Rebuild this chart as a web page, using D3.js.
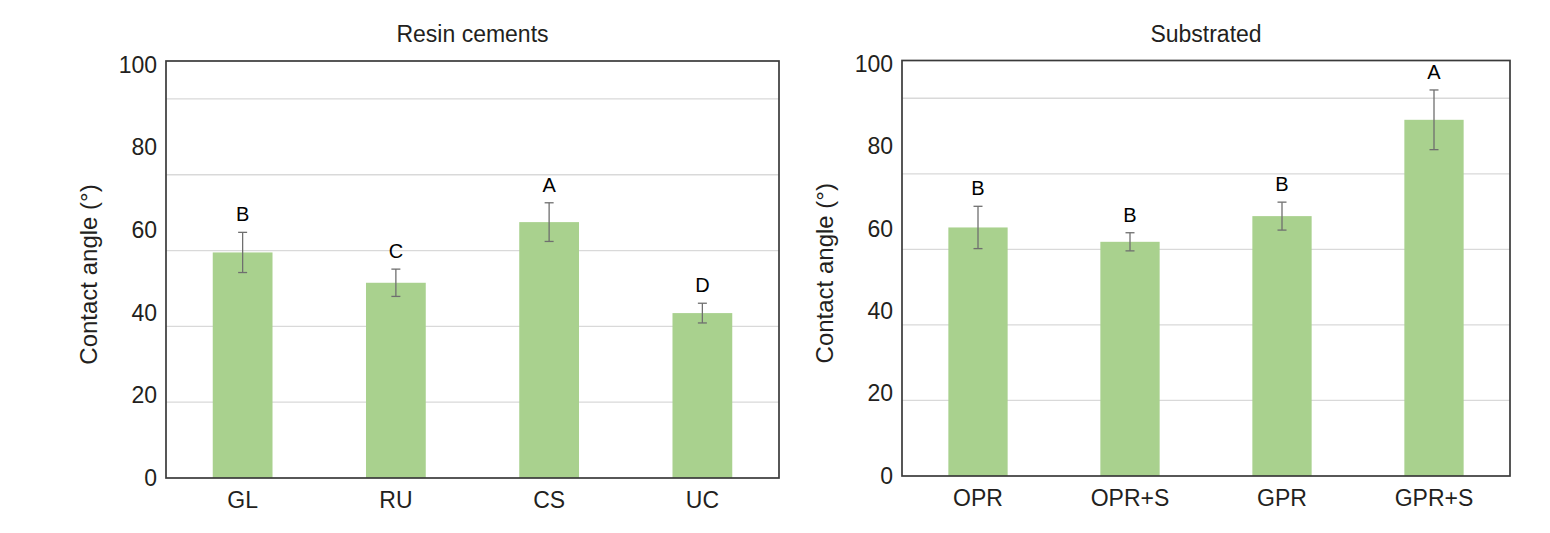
<!DOCTYPE html>
<html>
<head>
<meta charset="utf-8">
<script src="https://cdn.jsdelivr.net/npm/d3@7"></script>
<style>
  body { margin: 0; background: #fff; }
  svg { display: block; }
</style>
</head>
<body>
<script>
// Data
var cementCats = ["GL", "RU", "CS", "UC"];
var cementMeans = [59.5, 51.5, 67.5, 43.5];
var cementSD = [5.3, 3.6, 5.1, 2.6];
var cementLetters = ["B", "C", "A", "D"];

var substrateCats = ["OPR", "OPR+S", "GPR", "GPR+S"];
var substrateMeans = [65.8, 62.0, 68.8, 94.3];
var substrateSD = [5.6, 2.4, 3.7, 7.9];
var substrateLetters = ["B", "B", "B", "A"];

var tickLabels = [0, 20, 40, 60, 80, 100];
var gridValues = [20, 40, 60, 80, 100];

var w = 1550;
var h = 533;

var svg = d3.select("body")
  .append("svg")
  .attr("width", w)
  .attr("height", h);

var tickFont = "'Liberation Sans Narrow', 'Arial Narrow', sans-serif";

function drawPanel(opts) {
  var g = svg.append("g");

  // bars/gridlines live on a 0-110 scale, tick labels on 0-100
  var y = d3.scaleLinear().domain([0, 110]).range([opts.bottom, opts.top]);
  var yLab = d3.scaleLinear().domain([0, 100]).range([opts.bottom, opts.labTop]);

  var x = d3.scaleBand()
    .domain(opts.cats)
    .range([opts.left, opts.right])
    .paddingInner(0.61)
    .paddingOuter(0.305);

  // gridlines
  g.selectAll(".grid")
    .data(gridValues)
    .enter()
    .append("line")
    .attr("x1", opts.left)
    .attr("x2", opts.right)
    .attr("y1", function(d) { return y(d); })
    .attr("y2", function(d) { return y(d); })
    .attr("stroke", "#d9d9d9")
    .attr("stroke-width", 1.3);

  // bars
  g.selectAll(".bar")
    .data(opts.cats)
    .enter()
    .append("rect")
    .attr("x", function(d) { return x(d); })
    .attr("width", x.bandwidth())
    .attr("y", function(d, i) { return y(opts.means[i]); })
    .attr("height", function(d, i) { return y(0) - y(opts.means[i]); })
    .attr("fill", "#a9d18e");

  // error bars
  var eb = g.selectAll(".err")
    .data(opts.cats)
    .enter()
    .append("g")
    .attr("stroke", "#6f6f6f")
    .attr("stroke-width", 1.3);
  eb.append("line")
    .attr("x1", function(d) { return x(d) + x.bandwidth() / 2; })
    .attr("x2", function(d) { return x(d) + x.bandwidth() / 2; })
    .attr("y1", function(d, i) { return y(opts.means[i] + opts.sd[i]); })
    .attr("y2", function(d, i) { return y(opts.means[i] - opts.sd[i]); });
  [1, -1].forEach(function(s) {
    eb.append("line")
      .attr("x1", function(d) { return x(d) + x.bandwidth() / 2 - 4.5; })
      .attr("x2", function(d) { return x(d) + x.bandwidth() / 2 + 4.5; })
      .attr("y1", function(d, i) { return y(opts.means[i] + s * opts.sd[i]); })
      .attr("y2", function(d, i) { return y(opts.means[i] + s * opts.sd[i]); });
  });

  // significance letters
  g.selectAll(".letter")
    .data(opts.cats)
    .enter()
    .append("text")
    .attr("x", function(d) { return x(d) + x.bandwidth() / 2; })
    .attr("y", function(d, i) { return y(opts.means[i] + opts.sd[i]) - 11; })
    .attr("text-anchor", "middle")
    .attr("font-family", "'Liberation Sans', Arial, sans-serif")
    .attr("font-size", 20)
    .attr("fill", "#000")
    .text(function(d, i) { return opts.letters[i]; });

  // frame
  g.append("rect")
    .attr("x", opts.left)
    .attr("y", opts.top)
    .attr("width", opts.right - opts.left)
    .attr("height", opts.bottom - opts.top)
    .attr("fill", "none")
    .attr("stroke", "#3a3a3a")
    .attr("stroke-width", 1.7);

  // y tick labels
  g.append("g")
    .attr("transform", "translate(" + opts.left + ",0)")
    .call(d3.axisLeft(yLab).tickValues(tickLabels).tickSize(0).tickPadding(9))
    .call(function(a) {
      a.select(".domain").remove();
      a.selectAll("text")
        .attr("font-family", tickFont)
        .attr("font-size", 23)
        .attr("fill", "#231f20");
    });

  // x tick labels
  g.append("g")
    .attr("transform", "translate(0," + opts.bottom + ")")
    .call(d3.axisBottom(x).tickSize(0).tickPadding(14))
    .call(function(a) {
      a.select(".domain").remove();
      a.selectAll("text")
        .attr("font-family", tickFont)
        .attr("font-size", 23)
        .attr("fill", "#231f20");
    });

  // title
  g.append("text")
    .attr("x", (opts.left + opts.right) / 2)
    .attr("y", 42)
    .attr("text-anchor", "middle")
    .attr("font-family", tickFont)
    .attr("font-size", 23)
    .attr("fill", "#231f20")
    .text(opts.title);

  // y axis title
  g.append("text")
    .attr("transform", "translate(" + opts.yTitleX + "," + ((opts.top + opts.bottom) / 2 + 5) + ") rotate(-90)")
    .attr("text-anchor", "middle")
    .attr("font-family", tickFont)
    .attr("font-size", 24)
    .attr("fill", "#231f20")
    .text("Contact angle (°)");
}

drawPanel({
  title: "Resin cements",
  cats: cementCats, means: cementMeans, sd: cementSD, letters: cementLetters,
  left: 166, right: 779, top: 61, bottom: 478, labTop: 65, yTitleX: 97
});

drawPanel({
  title: "Substrated",
  cats: substrateCats, means: substrateMeans, sd: substrateSD, letters: substrateLetters,
  left: 902, right: 1510, top: 60.5, bottom: 476, labTop: 64, yTitleX: 833
});
</script>
</body>
</html>
